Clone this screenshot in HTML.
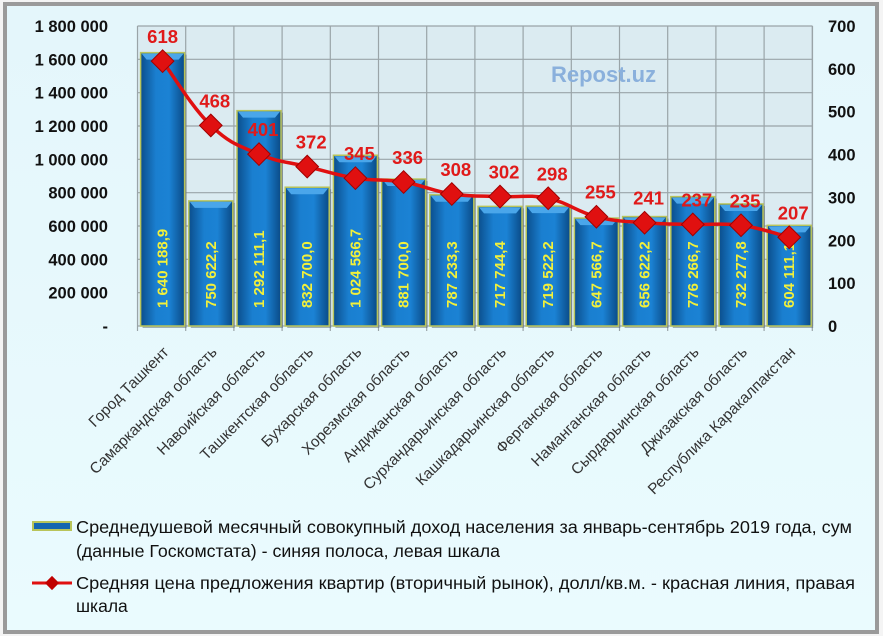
<!DOCTYPE html>
<html><head><meta charset="utf-8"><style>
body{margin:0;background:#fff;}
svg{display:block;font-family:"Liberation Sans",sans-serif;}
</style></head><body>
<svg width="883" height="636" viewBox="0 0 883 636" xmlns="http://www.w3.org/2000/svg">
<defs>
<linearGradient id="bar" x1="0" x2="1" y1="0" y2="0">
<stop offset="0" stop-color="#0b4e8c"/><stop offset="0.35" stop-color="#1a7fd0"/><stop offset="0.65" stop-color="#1b82d4"/><stop offset="1" stop-color="#0a4a86"/>
</linearGradient>
<linearGradient id="bg" x1="0" x2="0" y1="0" y2="1"><stop offset="0" stop-color="#e4f6fb"/><stop offset="1" stop-color="#eafbfe"/></linearGradient>
</defs>
<rect x="0" y="0" width="883" height="636" fill="#f4f4f4"/>
<rect x="5" y="4" width="872" height="628" fill="url(#bg)" stroke="#9a9a9a" stroke-width="4"/>
<rect x="137.5" y="26" width="675" height="300" fill="#dbebf1"/>
<g id="grid" stroke="#9aa4a8" stroke-width="1.2"></g>
<g id="main"></g>
</svg>
<script>
const NS="http://www.w3.org/2000/svg";
const g=document.getElementById('grid'), m=document.getElementById('main');
function el(t,a,p,txt){const e=document.createElementNS(NS,t);for(const k in a)e.setAttribute(k,a[k]);if(txt!==undefined)e.textContent=txt;(p||m).appendChild(e);return e;}
const x0=137.5,w=48.2,yb=326;
for(let i=0;i<=9;i++){const y=yb-i*33.333;el('line',{x1:x0,x2:812.5,y1:y,y2:y},g);}
for(let i=0;i<=14;i++){const x=x0+i*w;el('line',{x1:x,x2:x,y1:26,y2:yb+5},g);}
el('line',{x1:812.5,x2:812.5,y1:26,y2:yb},g);
const lt=["-","200 000","400 000","600 000","800 000","1 000 000","1 200 000","1 400 000","1 600 000","1 800 000"];
lt.forEach((t,i)=>el('text',{x:108,y:yb-i*33.333+6,'text-anchor':'end','font-size':'16.5','font-weight':'bold',fill:'#111'},m,t));
for(let i=0;i<=7;i++)el('text',{x:828,y:yb-i*42.857+6,'font-size':'16.5','font-weight':'bold',fill:'#111'},m,String(i*100));
const vals=[1640188.9,750622.2,1292111.1,832700,1024566.7,881700,787233.3,717744.4,719522.2,647566.7,656622.2,776266.7,732277.8,604111.1];
const lab=["1 640 188,9","750 622,2","1 292 111,1","832 700,0","1 024 566,7","881 700,0","787 233,3","717 744,4","719 522,2","647 566,7","656 622,2","776 266,7","732 277,8","604 111,1"];
const pr=[618,468,401,372,345,336,308,302,298,255,241,237,235,207];
const names=["Город Ташкент","Самаркандская область","Навоийская область","Ташкентская область","Бухарская область","Хорезмская область","Андижанская область","Сурхандарьинская область","Кашкадарьинская область","Ферганская область","Наманганская область","Сырдарьинская область","Джизакская область","Республика Каракалпакстан"];
vals.forEach((v,i)=>{const c=x0+w/2+i*w+1,bw=44,h=v/1800000*300,top=yb-h;
 el('rect',{x:c-bw/2+2,y:top+2,width:bw,height:h,fill:'#5a6a70',opacity:0.5});
 el('rect',{x:c-bw/2,y:top,width:bw,height:h,fill:'url(#bar)',stroke:'#b9c45a','stroke-width':1.5});
 el('polygon',{points:`${c-bw/2+1},${top+1} ${c+bw/2-1},${top+1} ${c+bw/2-6},${top+7} ${c-bw/2+6},${top+7}`,fill:'#4aa6ea'});
 el('text',{x:0,y:0,transform:`translate(${c+5},${yb-18}) rotate(-90)`,'font-size':'15','font-weight':'bold',fill:'#f2f03a'},m,lab[i]);
 el('text',{x:0,y:0,transform:`translate(${c+7},${yb+27}) rotate(-45)`,'text-anchor':'end','font-size':'15.3',fill:'#333'},m,names[i]);
});
let pts=pr.map((p,i)=>[x0+w/2+i*w+1,yb-p*300/700]);
let d='M'+pts[0];for(let i=0;i<pts.length-1;i++){const p0=pts[Math.max(0,i-1)],p1=pts[i],p2=pts[i+1],p3=pts[Math.min(pts.length-1,i+2)];const t=0.2;
d+=` C${p1[0]+(p2[0]-p0[0])*t},${p1[1]+(p2[1]-p0[1])*t} ${p2[0]-(p3[0]-p1[0])*t},${p2[1]-(p3[1]-p1[1])*t} ${p2[0]},${p2[1]}`;}
el('path',{d:d,fill:'none',stroke:'#e01010','stroke-width':3.5});
pts.forEach(([x,y],i)=>{el('rect',{x:x-8,y:y-8,width:16,height:16,fill:'#e01010',stroke:'#a00000',transform:`rotate(45 ${x} ${y})`});
 el('text',{x:x+(i==0?0:4),y:y-18,'text-anchor':'middle','font-size':'18.5','font-weight':'bold',fill:'#e01a1a'},m,String(pr[i]));});
el('text',{x:551,y:82,'font-size':'22','font-weight':'bold',fill:'#8ab0dc'},m,'Repost.uz');
// legend
el('rect',{x:33,y:522,width:38,height:8,fill:'#1565b0',stroke:'#b9c45a','stroke-width':2});
el('text',{x:76,y:533,'font-size':'17.5',fill:'#111',textLength:776,lengthAdjust:'spacingAndGlyphs'},m,'Среднедушевой месячный совокупный доход населения за январь-сентябрь 2019 года, сум');
el('text',{x:76,y:557,'font-size':'17.5',fill:'#111',textLength:424,lengthAdjust:'spacingAndGlyphs'},m,'(данные Госкомстата) - синяя полоса, левая шкала');
el('line',{x1:32,x2:72,y1:583,y2:583,stroke:'#e01010','stroke-width':3});
el('rect',{x:47,y:578,width:10,height:10,fill:'#c00000',transform:'rotate(45 52 583)'});
el('text',{x:76,y:589,'font-size':'17.5',fill:'#111',textLength:779,lengthAdjust:'spacingAndGlyphs'},m,'Средняя цена предложения квартир (вторичный рынок), долл/кв.м. - красная линия, правая');
el('text',{x:76,y:612,'font-size':'17.5',fill:'#111'},m,'шкала');
</script>
</body></html>
